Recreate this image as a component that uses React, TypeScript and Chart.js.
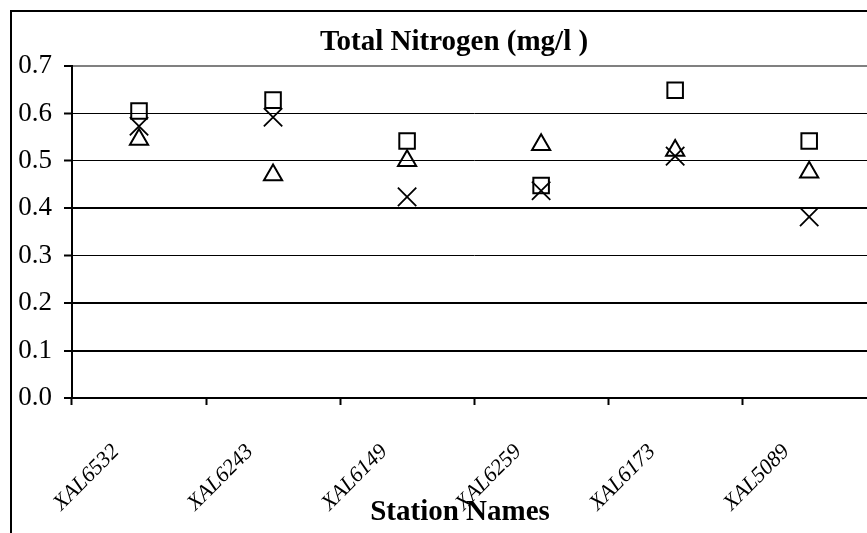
import React, { useEffect, useRef } from "react";
import { Chart, registerables } from "chart.js";

Chart.register(...registerables);

const stations = ["XAL6532", "XAL6243", "XAL6149", "XAL6259", "XAL6173", "XAL5089"];
const seriesSquare = [0.605, 0.628, 0.542, 0.448, 0.649, 0.542];
const seriesTriangle = [0.545, 0.47, 0.5, 0.534, 0.522, 0.476];
const seriesCross = [0.573, 0.592, 0.424, 0.437, 0.51, 0.382];
const yTickLabels = ["0.0", "0.1", "0.2", "0.3", "0.4", "0.5", "0.6", "0.7"];
const chartTitle = "Total Nitrogen (mg/l )";
const xAxisTitle = "Station Names";

const SERIF = "'Liberation Serif', 'Times New Roman', Times, serif";

const titlePlugin = {
  id: "excelTitles",
  afterDraw(chart: any) {
    const ctx = chart.ctx;
    ctx.save();
    ctx.fillStyle = "#000";
    ctx.textAlign = "center";
    ctx.textBaseline = "alphabetic";
    ctx.font = `bold 29px ${SERIF}`;
    ctx.fillText(chartTitle, 454, 50);
    ctx.fillText(xAxisTitle, 460, 520);
    ctx.restore();
  },
};

export default function App() {
  const ref = useRef<HTMLCanvasElement | null>(null);

  useEffect(() => {
    if (!ref.current) return;
    const gridWidths = [2, 2, 2, 1, 2, 1, 1, 2];
    const chart = new Chart(ref.current, {
      type: "line",
      data: {
        labels: stations,
        datasets: [
          {
            label: "Series 1",
            data: seriesSquare,
            showLine: false,
            pointStyle: "rect",
            pointRadius: 11,
            pointHoverRadius: 11,
            pointBorderWidth: 2,
            borderColor: "#000",
            pointBorderColor: "#000",
            pointBackgroundColor: "rgba(0,0,0,0)",
            backgroundColor: "rgba(0,0,0,0)",
          },
          {
            label: "Series 2",
            data: seriesTriangle,
            showLine: false,
            pointStyle: "triangle",
            pointRadius: 10.5,
            pointHoverRadius: 10.5,
            pointBorderWidth: 2,
            borderColor: "#000",
            pointBorderColor: "#000",
            pointBackgroundColor: "rgba(0,0,0,0)",
            backgroundColor: "rgba(0,0,0,0)",
          },
          {
            label: "Series 3",
            data: seriesCross,
            showLine: false,
            pointStyle: "crossRot",
            pointRadius: 13,
            pointHoverRadius: 13,
            pointBorderWidth: 1.8,
            borderColor: "#000",
            pointBorderColor: "#000",
            pointBackgroundColor: "rgba(0,0,0,0)",
            backgroundColor: "rgba(0,0,0,0)",
          },
        ],
      },
      options: {
        responsive: false,
        animation: false,
        devicePixelRatio: 1,
        layout: { padding: { left: 0, right: 4, top: 66, bottom: 0 } },
        plugins: {
          legend: { display: false },
          tooltip: { enabled: false },
          title: { display: false },
        },
        scales: {
          x: {
            type: "category",
            offset: true,
            grid: {
              offset: true,
              drawOnChartArea: false,
              drawTicks: true,
              tickLength: 7,
              tickColor: "#000",
              tickWidth: 2,
              color: "#000",
            },
            border: { display: true, color: "#000", width: 2 },
            ticks: {
              color: "#000",
              font: { family: SERIF, size: 22, style: "italic" },
              maxRotation: 45,
              minRotation: 45,
              autoSkip: false,
              padding: 34,
              labelOffset: -23,
            },
            title: { display: false },
            afterFit: (s: any) => {
              s.height = 135;
            },
          },
          y: {
            min: 0,
            max: 0.7,
            ticks: {
              stepSize: 0.1,
              color: "#000",
              font: { family: SERIF, size: 27 },
              padding: 12,
              callback: (_v: any, i: number) => yTickLabels[i],
            },
            grid: {
              color: (c: any) =>
                c.tick && Math.abs(c.tick.value - 0.7) < 1e-6 ? "#808080" : "#000",
              lineWidth: (c: any) => gridWidths[c.index] ?? 1,
              tickColor: "#000",
              tickLength: 8,
              tickWidth: 2,
            },
            border: { display: true, color: "#000", width: 2 },
            afterFit: (s: any) => {
              s.width = 72;
            },
          },
        },
      },
      plugins: [titlePlugin],
    });
    return () => chart.destroy();
  }, []);

  return (
    <div
      style={{
        position: "fixed",
        left: 0,
        top: 0,
        width: 867,
        height: 533,
        overflow: "hidden",
        background: "#fff",
      }}
    >
      <div
        style={{
          position: "absolute",
          left: 10,
          top: 10,
          width: 1000,
          height: 1000,
          border: "2px solid #000",
          boxSizing: "border-box",
        }}
      />
      <canvas
        ref={ref}
        width={891}
        height={533}
        style={{ position: "absolute", left: 0, top: 0, width: 891, height: 533, display: "block" }}
      />
    </div>
  );
}
